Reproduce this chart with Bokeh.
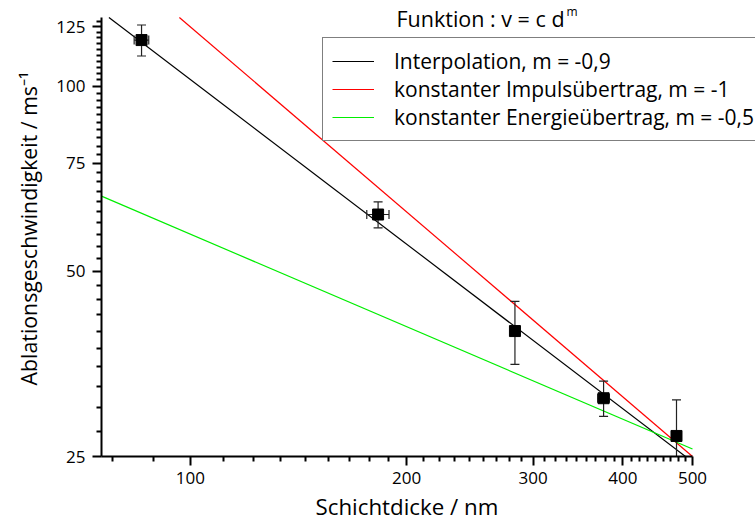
from bokeh.plotting import figure
from bokeh.models import (Range1d, FixedTicker, PrintfTickFormatter, Legend,
                          LegendItem, Label, Title)
from bokeh.embed import file_html
from bokeh.resources import INLINE
import numpy as np

# ---- data ----
thickness = [85.5, 182.5, 283.0, 376.0, 475.0]          # nm
velocity = [119.0, 61.9, 40.0, 31.1, 27.0]              # m/s
velocity_err = [6.9, 3.0, 4.7, 2.05, 3.9]
thickness_err = [2.0, 6.5, 0.0, 7.0, 0.0]

fit_labels = ["Interpolation, m = -0,9",
              "konstanter Impulsübertrag, m = -1",
              "konstanter Energieübertrag, m = -0,5"]
fit_m = [-0.89, -1.0, -0.5]
fit_c = [6185.0, 12500.0, 575.0]
fit_colors = ["#000000", "#ff0000", "#00ee00"]

x_ticks = [100, 200, 300, 400, 500]
y_ticks = [25, 50, 75, 100, 125]

FONT = "Open Sans"
X_MIN, X_MAX = 75.2, 500.0
Y_MIN, Y_MAX = 25.0, 129.5

# axis box in pixels: left 101, right 692, top 17, bottom 456 ;
# the frame is widened to the canvas edge so the legend is not clipped
FR_L, FR_R, FR_T, FR_B = 101, 692, 17, 456
W, H = 755, 527
px_x = (FR_R - FR_L) / np.log10(X_MAX / X_MIN)
px_y = (FR_B - FR_T) / np.log10(Y_MAX / Y_MIN)
x_view_max = X_MAX * 10 ** ((W - FR_R) / px_x)
y_view_max = Y_MAX * 10 ** (FR_T / px_y)

p = figure(width=W, height=H, x_axis_type="log", y_axis_type="log",
           x_range=Range1d(X_MIN, x_view_max), y_range=Range1d(Y_MIN, y_view_max),
           output_backend="svg", toolbar_location=None,
           min_border_left=FR_L, min_border_right=0,
           min_border_top=0, min_border_bottom=H - FR_B)
p.outline_line_color = None
p.grid.visible = False
p.background_fill_color = "white"
p.border_fill_color = "white"

# ---- fit lines, clipped to the axis box ----
items = []
for lab, m, c, col in zip(fit_labels, fit_m, fit_c, fit_colors):
    x0 = X_MIN
    if c * x0 ** m > Y_MAX:
        x0 = (Y_MAX / c) ** (1.0 / m)
    xs = np.array([x0, X_MAX])
    r = p.line(xs, c * xs ** m, line_color=col, line_width=1.2)
    items.append(LegendItem(label=lab, renderers=[r]))

# ---- error bars ----
d = np.array(thickness)
v = np.array(velocity)
ve = np.array(velocity_err)
de = np.array(thickness_err)
ERR_COL = "#222222"
p.segment(d, v - ve, d, v + ve, line_color=ERR_COL, line_width=1.2)
p.scatter(np.concatenate([d, d]), np.concatenate([v - ve, v + ve]),
          marker="dash", size=9, line_color=ERR_COL, line_width=1.2)
mask = de > 0
p.segment(d[mask] - de[mask], v[mask], d[mask] + de[mask], v[mask],
          line_color=ERR_COL, line_width=1.2)
p.scatter(np.concatenate([d[mask] - de[mask], d[mask] + de[mask]]),
          np.concatenate([v[mask], v[mask]]), marker="dash", angle=np.pi / 2,
          size=9, line_color=ERR_COL, line_width=1.2)
p.scatter(d, v, marker="square", size=11, fill_color="black", line_color="black")

# ---- axes ----
minor_x = [100.0 / 9 * i for i in range(7, 46) if i % 9 != 0]
minor_y = [2.5 * i for i in range(10, 52) if i % 10 != 0]
p.xaxis.ticker = FixedTicker(ticks=x_ticks, minor_ticks=minor_x)
p.yaxis.ticker = FixedTicker(ticks=y_ticks, minor_ticks=minor_y)
p.xaxis.bounds = (X_MIN, X_MAX)
p.yaxis.bounds = (Y_MIN, Y_MAX)
for ax in (p.xaxis, p.yaxis):
    ax.formatter = PrintfTickFormatter(format="%d")
    ax.axis_line_width = 2
    ax.axis_line_color = "black"
    ax.major_tick_in = 0
    ax.major_tick_out = 9
    ax.minor_tick_in = 0
    ax.minor_tick_out = 5
    ax.major_tick_line_width = 2
    ax.minor_tick_line_width = 2
    ax.major_label_text_font = FONT
    ax.major_label_text_font_size = "17px"
    ax.major_label_text_color = "black"
    ax.axis_label_text_font = FONT
    ax.axis_label_text_font_style = "normal"
    ax.axis_label_text_color = "black"
p.yaxis.axis_label = "Ablationsgeschwindigkeit / ms⁻¹"
p.yaxis.axis_label_text_font_size = "21.3px"
p.xaxis.major_label_standoff = 6
p.yaxis.major_label_standoff = 7
p.yaxis.axis_label_standoff = 10

# x axis title as a side-panel title (centred on the axis box, not the frame)
p.add_layout(Title(text="Schichtdicke / nm", align="left", offset=315 - FR_L,
                   text_font=FONT, text_font_size="22.3px",
                   text_font_style="normal", text_color="black",
                   standoff=5), "below")

# ---- legend ----
legend = Legend(items=items, location=(221, 315),
                label_text_font=FONT, label_text_font_size="21px",
                label_text_color="black",
                glyph_width=42, glyph_height=20, label_height=20,
                label_standoff=20, spacing=-3, padding=9, margin=0,
                border_line_color="black", border_line_width=1,
                background_fill_color="white", background_fill_alpha=1.0)
p.add_layout(legend, "center")

p.add_layout(Label(x=295, y=FR_B - 18, x_units="screen", y_units="screen",
                   text="Funktion : v = c d", text_font=FONT,
                   text_font_size="21.5px", text_color="black",
                   text_baseline="alphabetic"))
p.add_layout(Label(x=465, y=FR_B - 11, x_units="screen", y_units="screen",
                   text="m", text_font=FONT, text_font_size="12px",
                   text_color="black", text_baseline="alphabetic"))

open("out.html", "w").write(file_html(p, INLINE))
